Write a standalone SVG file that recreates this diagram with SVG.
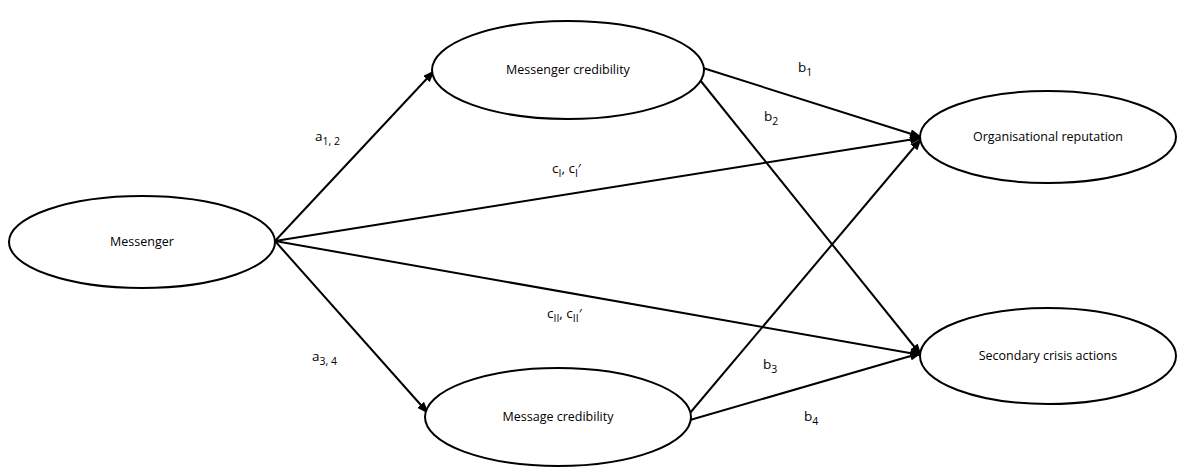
<svg xmlns="http://www.w3.org/2000/svg" width="1186" height="472" viewBox="0 0 1186 472">
<style>
.n{fill:#fff;stroke:#000;stroke-width:2}
.t{font-family:"Open Sans","Liberation Sans",sans-serif;font-size:12.5px;fill:#000;text-anchor:middle}
.l{font-family:"Open Sans","Liberation Sans",sans-serif;font-size:13.5px;fill:#000}
.s{font-size:10.5px}
.e{stroke:#000;stroke-width:2;fill:none;marker-end:url(#ah)}
</style>
<defs>
<marker id="ah" markerWidth="12" markerHeight="9" refX="11" refY="4.5" orient="auto" markerUnits="userSpaceOnUse">
<path d="M0,0 L12,4.5 L0,9 Z" fill="#000"/>
</marker>
</defs>
<rect width="1186" height="472" fill="#fff"/>
<g id="connectors">
<line class="e" x1="275" y1="241" x2="434" y2="71"/>
<line class="e" x1="275" y1="241" x2="921" y2="138"/>
<line class="e" x1="275" y1="241" x2="921" y2="355"/>
<line class="e" x1="275" y1="241" x2="428" y2="413"/>
<line class="e" x1="703" y1="68" x2="921" y2="137"/>
<line class="e" x1="700" y1="80" x2="921" y2="355"/>
<line class="e" x1="690" y1="413" x2="921" y2="139"/>
<line class="e" x1="690" y1="420" x2="921" y2="353"/>
</g>
<g id="messenger">
<ellipse class="n" cx="142" cy="242" rx="133" ry="46"/>
<text class="t" x="142" y="246">Messenger</text>
</g>
<g id="messenger-credibility">
<ellipse class="n" cx="568" cy="70" rx="136" ry="49"/>
<text class="t" x="568" y="74">Messenger credibility</text>
</g>
<g id="message-credibility">
<ellipse class="n" cx="558" cy="417" rx="133" ry="49"/>
<text class="t" x="558" y="421">Message credibility</text>
</g>
<g id="organisational-reputation">
<ellipse class="n" cx="1048" cy="137" rx="128" ry="46"/>
<text class="t" x="1048" y="141">Organisational reputation</text>
</g>
<g id="secondary-crisis-actions">
<ellipse class="n" cx="1048" cy="356" rx="128" ry="48"/>
<text class="t" x="1048" y="360">Secondary crisis actions</text>
</g>
<g id="labels">
<text class="l" x="315" y="141">a<tspan class="s" dy="4">1, 2</tspan></text>
<text class="l" x="312" y="361">a<tspan class="s" dy="4">3, 4</tspan></text>
<text class="l" x="552" y="173">c<tspan class="s" dy="4">I</tspan><tspan dy="-4">, c</tspan><tspan class="s" dy="4">I</tspan><tspan dy="-4">′</tspan></text>
<text class="l" x="547" y="318">c<tspan class="s" dy="4">II</tspan><tspan dy="-4">, c</tspan><tspan class="s" dy="4">II</tspan><tspan dy="-4">′</tspan></text>
<text class="l" x="798" y="72">b<tspan class="s" dy="4">1</tspan></text>
<text class="l" x="764" y="121">b<tspan class="s" dy="4">2</tspan></text>
<text class="l" x="763" y="369">b<tspan class="s" dy="4">3</tspan></text>
<text class="l" x="804" y="421">b<tspan class="s" dy="4">4</tspan></text>
</g>
</svg>
